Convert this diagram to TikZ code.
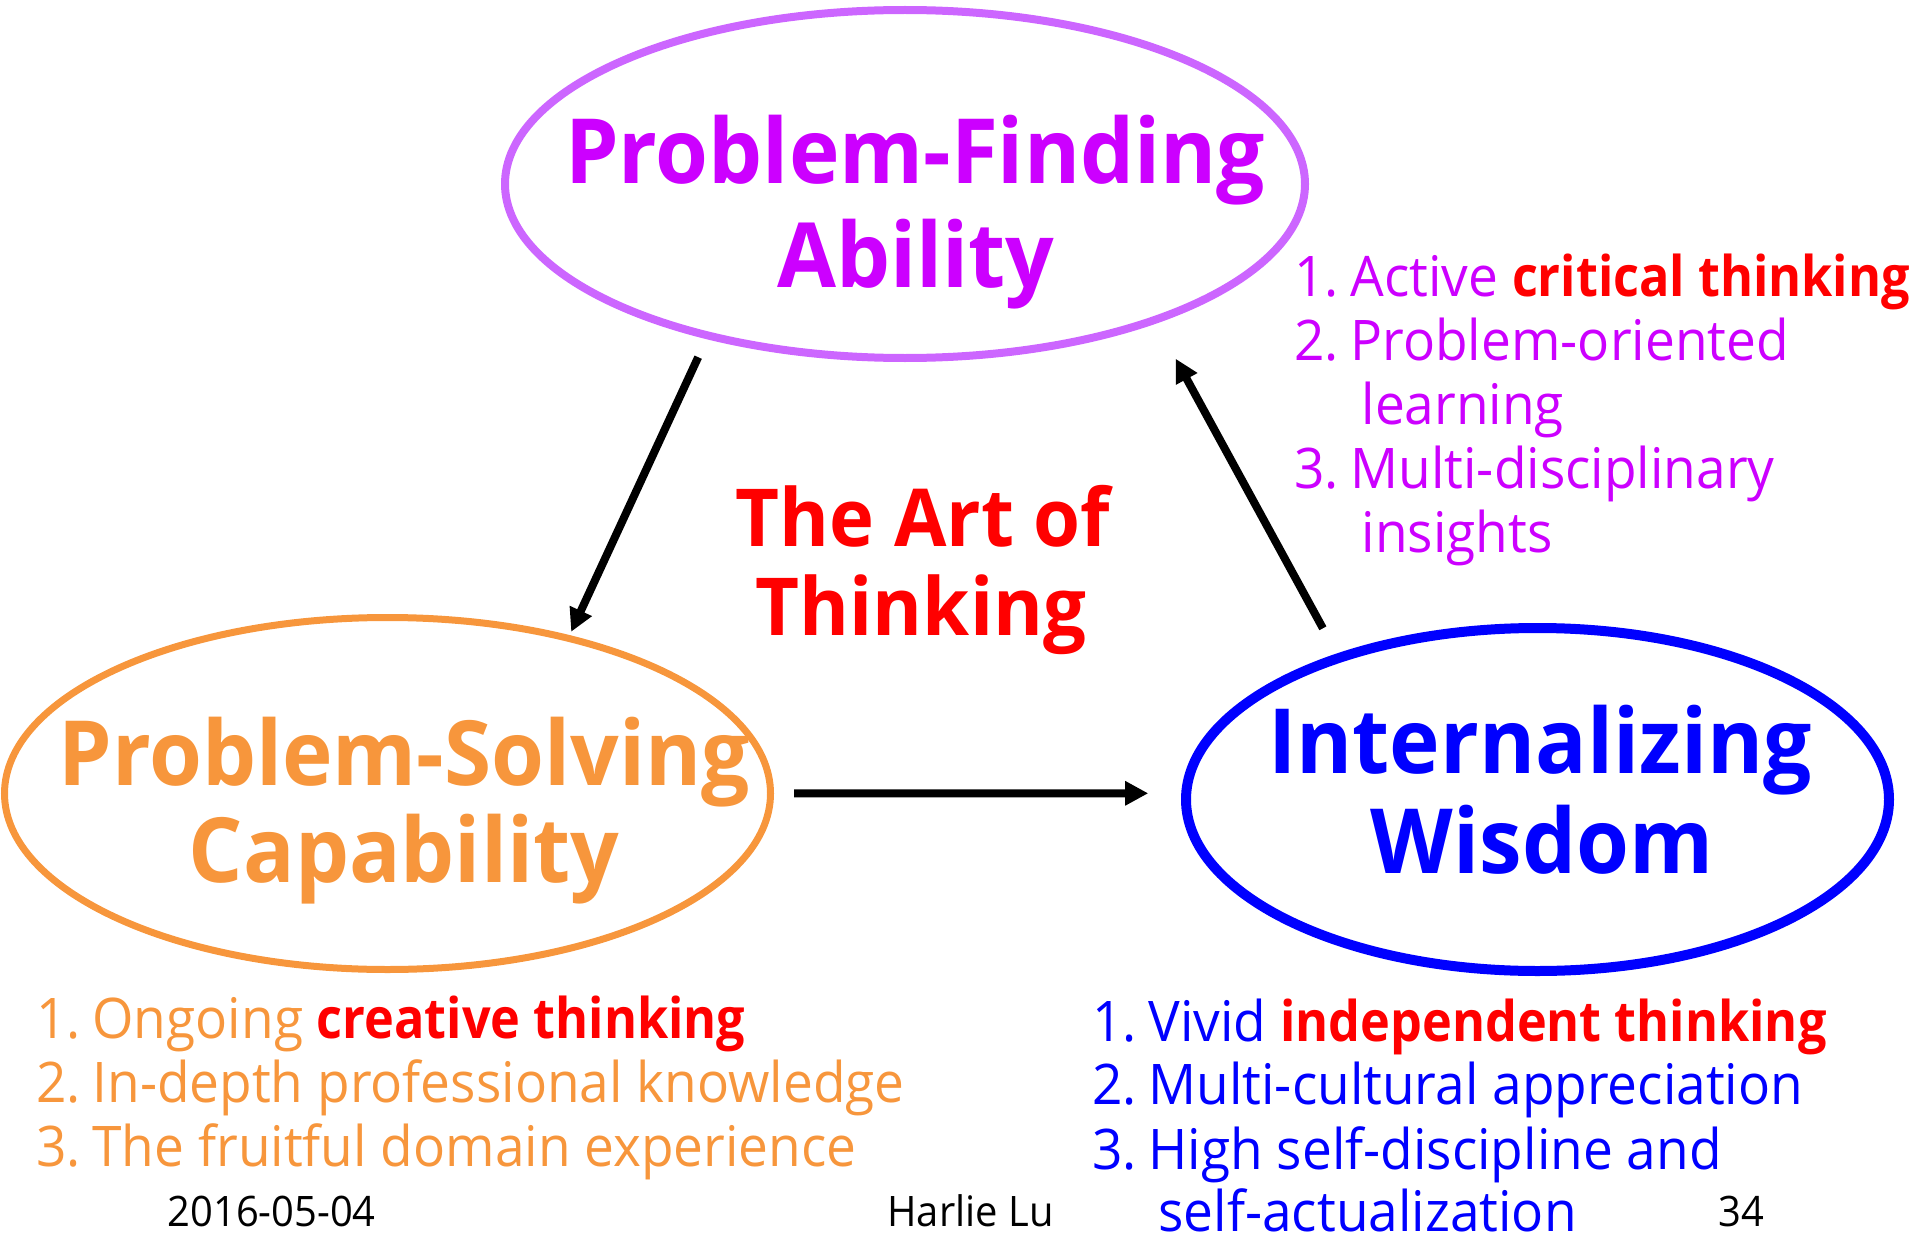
\documentclass[tikz,border=0pt]{standalone}
\usepackage{fontspec}
\setmainfont{Open Sans}[FakeStretch=0.95]
\newfontfamily\hotfont{Open Sans}[FakeStretch=0.9]
\usepackage{xcolor}
\usetikzlibrary{shapes,arrows.meta,positioning}

\definecolor{pfline}{RGB}{204,102,255}
\definecolor{pftext}{RGB}{204,0,255}
\definecolor{psorange}{RGB}{247,150,60}
\definecolor{iwblue}{RGB}{0,0,255}
\definecolor{artred}{RGB}{255,0,0}

\newcommand{\num}[1]{\makebox[56pt][l]{#1}}
\newcommand{\hot}[1]{\textcolor{artred}{\hotfont\bfseries #1}}

\begin{document}
\begin{tikzpicture}[x=1pt,y=-1pt,
    oval/.style={ellipse,draw,inner sep=0pt},
    bigline/.style={font=\fontsize{90}{100}\selectfont\bfseries,anchor=base},
    artline/.style={font=\fontsize{80}{90}\selectfont\bfseries,anchor=base,artred},
    listline/.style={font=\fontsize{56}{64}\selectfont,anchor=base west},
    footline/.style={font=\fontsize{42}{48}\selectfont,anchor=base west},
    arr/.style={line width=8pt,-{Triangle[length=23pt,width=23pt]}}]
    \useasboundingbox (0,0) rectangle (1915,1236);

    % the three abilities
    \node[oval,draw=pfline,line width=8pt,minimum width=800pt,minimum height=348pt] (pf) at (905,184) {};
    \node[oval,draw=psorange,line width=7pt,minimum width=766pt,minimum height=352pt] (ps) at (387.5,793.5) {};
    \node[oval,draw=iwblue,line width=10pt,minimum width=703pt,minimum height=343pt] (iw) at (1537.5,799.5) {};

    \node[bigline,pftext] (pf1) at (915,184) {Problem-Finding};
    \node[bigline,pftext] (pf2) at (916,287) {Ability};
    \node[bigline,psorange] (ps1) at (404,785) {Problem-Solving};
    \node[bigline,psorange] (ps2) at (404,882) {Capability};
    \node[bigline,iwblue] (iw1) at (1540,773) {Internalizing};
    \node[bigline,iwblue] (iw2) at (1542,873) {Wisdom};

    \node[artline] (art1) at (923,546) {The Art of};
    \node[artline] (art2) at (921,635) {Thinking};

    % cycle
    \draw[arr,shorten <=20pt,shorten >=3.75pt] (pf.218.78) -- (ps.41.66);
    \draw[arr,shorten <=20pt,shorten >=33pt] (ps.-0.52) -- (iw.179.6);
    \draw[arr,shorten <=28.9pt,shorten >=40.35pt] (iw.144.36) -- (pf.-29.62);

    % lists
    \node[listline,pftext] (pfl1) at (1291,296) {\num{1.}Active \hot{critical thinking}};
    \node[listline,pftext] (pfl2) at (1291,360) {\num{2.}Problem-oriented};
    \node[listline,pftext] (pfl3) at (1358,424) {learning};
    \node[listline,pftext] (pfl4) at (1291,488) {\num{3.}Multi-disciplinary};
    \node[listline,pftext] (pfl5) at (1358,552) {insights};

    \node[listline,psorange] (psl1) at (33,1038) {\num{1.}Ongoing \hot{creative thinking}};
    \node[listline,psorange] (psl2) at (33,1102) {\num{2.}In-depth professional knowledge};
    \node[listline,psorange] (psl3) at (33,1166) {\num{3.}The fruitful domain experience};

    \node[listline,iwblue] (iwl1) at (1089,1041) {\num{1.}Vivid \hot{independent thinking}};
    \node[listline,iwblue] (iwl2) at (1089,1104) {\num{2.}Multi-cultural appreciation};
    \node[listline,iwblue] (iwl3) at (1089,1169) {\num{3.}High self-discipline and};
    \node[listline,iwblue] (iwl4) at (1155,1231) {self-actualization};

    % footer
    \node[footline] (date) at (164,1226) {2016-05-04};
    \node[footline] (name) at (884,1226) {Harlie Lu};
    \node[footline] (page) at (1715,1226) {34};
\end{tikzpicture}
\end{document}
